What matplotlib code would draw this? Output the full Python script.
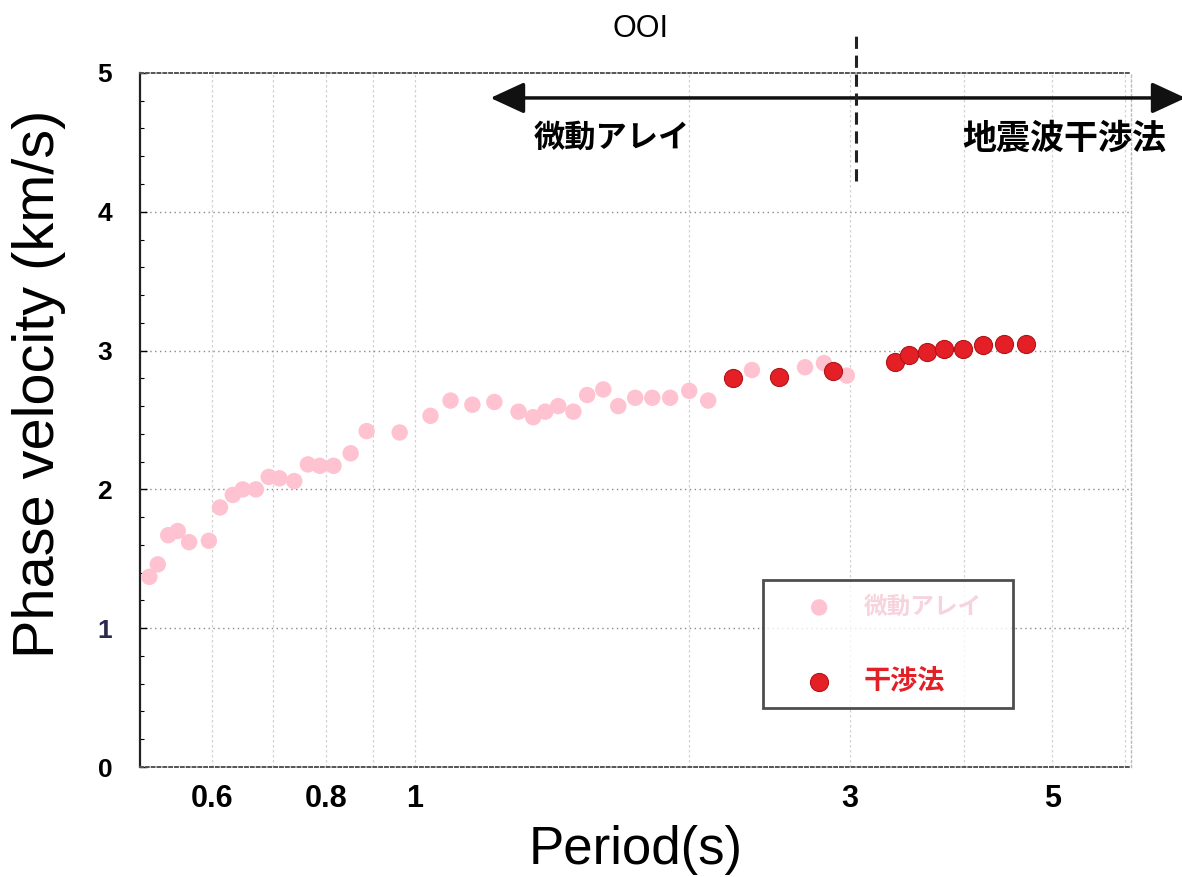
import matplotlib
matplotlib.use("Agg")
import matplotlib.pyplot as plt
from matplotlib.ticker import FixedLocator, FixedFormatter, MultipleLocator, NullFormatter

# Microtremor array dispersion curve (period [s], phase velocity [km/s])
array_period = [0.512, 0.523, 0.537, 0.550, 0.566, 0.595, 0.612, 0.632, 0.648,
                0.670, 0.692, 0.711, 0.738, 0.764, 0.787, 0.815, 0.851, 0.886,
                0.963, 1.041, 1.095, 1.157, 1.223, 1.300, 1.349, 1.391, 1.437,
                1.493, 1.546, 1.610, 1.672, 1.745, 1.822, 1.906, 2.000, 2.098,
                2.343, 2.679, 2.810, 2.977]
array_velocity = [1.37, 1.46, 1.67, 1.70, 1.62, 1.63, 1.87, 1.96, 2.00,
                  2.00, 2.09, 2.08, 2.06, 2.18, 2.17, 2.17, 2.26, 2.42,
                  2.41, 2.53, 2.64, 2.61, 2.63, 2.56, 2.52, 2.56, 2.60,
                  2.56, 2.68, 2.72, 2.60, 2.66, 2.66, 2.66, 2.71, 2.64,
                  2.86, 2.88, 2.91, 2.82]

# Seismic interferometry dispersion curve
interf_period = [2.234, 2.508, 2.873, 3.360, 3.480, 3.642, 3.802, 3.988,
                 4.195, 4.422, 4.674]
interf_velocity = [2.80, 2.81, 2.85, 2.92, 2.97, 2.99, 3.01, 3.01,
                   3.04, 3.05, 3.05]

grid_periods = [0.6, 0.7, 0.8, 0.9, 1, 2, 3, 4, 5, 6]
period_labels = ["0.6", "", "0.8", "", "1", "", "3", "", "5", ""]
velocity_ticks = [0, 1, 2, 3, 4, 5]

legend_labels = ["微動アレイ", "干渉法"]
range_labels = ["微動アレイ", "地震波干渉法"]
site_name = "OOI"

PINK = "#ffc2d1"
RED = "#e41f26"
CJK = ["Noto Sans CJK JP", "DejaVu Sans"]
LATIN = ["Liberation Sans", "DejaVu Sans"]

fig = plt.figure(figsize=(11.82, 8.77), dpi=100)
ax = fig.add_axes([0.1184, 0.1254, 0.8385, 0.7914])
ax.set_xscale("log")
ax.set_xlim(0.5, 6.1)
ax.set_ylim(0, 5)

# grid
ax.xaxis.set_major_locator(FixedLocator(grid_periods))
ax.xaxis.set_major_formatter(FixedFormatter(period_labels))
ax.xaxis.set_minor_locator(FixedLocator([]))
ax.xaxis.set_minor_formatter(NullFormatter())
ax.yaxis.set_major_locator(FixedLocator(velocity_ticks))
ax.yaxis.set_minor_locator(MultipleLocator(0.2))
for p in grid_periods:
    ax.axvline(p, color="#d2d2d2", lw=0.9, ls=(0, (2, 2)), zorder=0)
for v in velocity_ticks[1:-1]:
    ax.axhline(v, color="#8a8a8a", lw=1.0, ls=(0, (1, 2.5)), zorder=0)

ax.tick_params(axis="x", length=0, pad=12, labelsize=22)
ax.tick_params(axis="y", which="major", direction="in", length=5, width=1,
               pad=20, labelsize=19)
ax.tick_params(axis="y", which="minor", direction="in", length=3, width=0.8)
for lab in ax.get_xticklabels() + ax.get_yticklabels():
    lab.set_family(LATIN)
    lab.set_fontweight("bold")
ax.get_yticklabels()[1].set_color("#2b2950")

ax.spines["left"].set_color("#222222")
ax.spines["left"].set_linewidth(1.6)
for side in ("top", "bottom"):
    ax.spines[side].set_color("#555555")
    ax.spines[side].set_linewidth(1.4)
    ax.spines[side].set_linestyle((0, (1.5, 1.5)))
ax.spines["right"].set_color("#bbbbbb")
ax.spines["right"].set_linewidth(1.0)
ax.spines["right"].set_linestyle((0, (1.5, 2)))

# data
ax.scatter(array_period, array_velocity, s=140, color=PINK, edgecolors="none",
           zorder=3, label=legend_labels[0])
ax.scatter(interf_period, interf_velocity, s=170, color=RED, edgecolors="#b3141a",
           linewidths=0.8, zorder=4, label=legend_labels[1])

ax.set_xlabel("Period(s)", fontsize=38, family=LATIN, labelpad=8)
ax.set_ylabel("Phase velocity (km/s)", fontsize=41.5, family=LATIN)
ax.yaxis.set_label_coords(-0.0747, 0.552)

# method ranges above the plot
ax.annotate("", xy=(1.211, 4.82), xytext=(7.0, 4.82), xycoords="data",
            arrowprops=dict(arrowstyle="<|-|>,head_length=1.3,head_width=0.6",
                            mutation_scale=16, color="#111111", lw=2.5,
                            shrinkA=0, shrinkB=0),
            annotation_clip=False)
ax.plot([3.05, 3.05], [4.22, 5.27], color="#222222", lw=2.2,
        ls=(0, (4, 2.2)), clip_on=False, zorder=5)
ax.text(1.647, 4.53, range_labels[0], family=CJK, fontsize=22.5, fontweight="bold",
        ha="center", va="center")
ax.text(5.157, 4.53, range_labels[1], family=CJK, fontsize=24.5, fontweight="bold",
        ha="center", va="center", clip_on=False)
ax.text(1.767, 5.32, site_name, family=LATIN, fontsize=22, ha="center",
        va="center", clip_on=False)

leg = ax.legend(loc="lower left", bbox_to_anchor=(0.6287, 0.085, 0.2523, 0.18),
                mode="expand", frameon=True, fancybox=False,
                prop={"family": CJK, "size": 17, "weight": "bold"},
                borderpad=0.6, labelspacing=2.0, handletextpad=0.1,
                handlelength=3.55, borderaxespad=0)
leg.get_frame().set_edgecolor("#222222")
leg.get_frame().set_linewidth(2.0)
leg.get_texts()[0].set_color("#f7d3dd")
leg.get_texts()[1].set_color(RED)
leg.get_texts()[1].set_fontsize(19.5)

fig.savefig("out.png", dpi=100)
